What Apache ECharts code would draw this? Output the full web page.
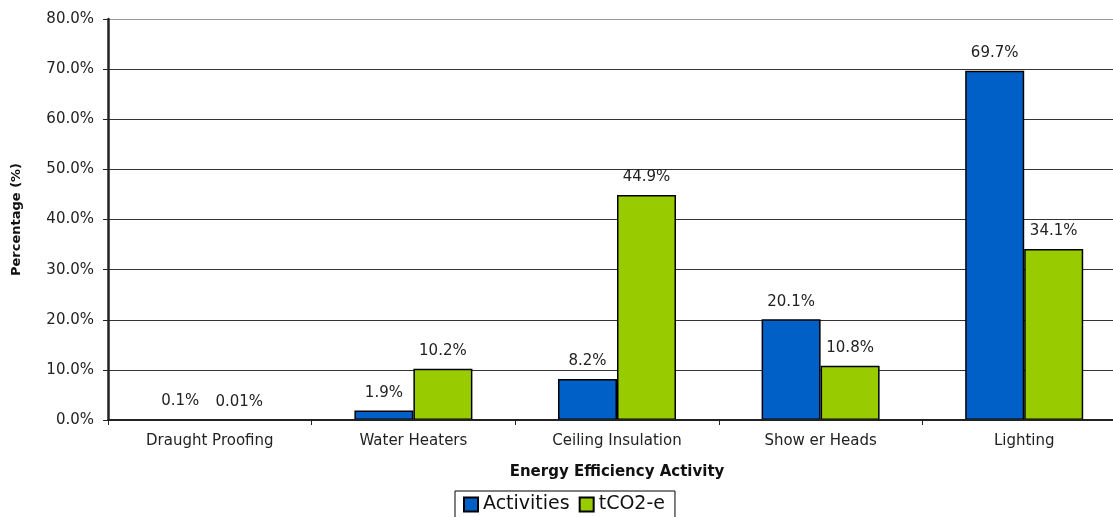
<!DOCTYPE html>
<html><head><meta charset="utf-8">
<script src="https://cdn.jsdelivr.net/npm/echarts@6/dist/echarts.min.js"></script>
<style>html,body{margin:0;padding:0;background:#fff;overflow:hidden;width:1113px;height:517px}#c{width:1126px;height:517px}</style>
</head><body><div id="c"></div>
<script>
const categories = ['Draught Proofing','Water Heaters','Ceiling Insulation','Show er Heads','Lighting'];
const activities = [0.1, 1.9, 8.2, 20.1, 69.7];
const tco2 = [0.01, 10.2, 44.9, 10.8, 34.1];
const activitiesLabels = ['0.1%','1.9%','8.2%','20.1%','69.7%'];
const tco2Labels = ['0.01%','10.2%','44.9%','10.8%','34.1%'];

const font = 'DejaVu Sans, sans-serif';
const chart = echarts.init(document.getElementById('c'));
const gridColors = ['#333','#333','#333','#333','#333','#333','#333','#333','#999'];
chart.setOption({
  animation:false,
  textStyle:{fontFamily:font},
  grid:{left:108, top:19, bottom:97, right:0, containLabel:false},
  legend:{
    data:['Activities','tCO2-e'], left:455, top:491, itemWidth:14, itemHeight:14, itemGap:9,
    borderColor:'#000', borderWidth:1, padding:[4,10,8,8],
    textStyle:{fontSize:19, color:'#111', fontFamily:font},
    icon:'rect'
  },
  xAxis:{
    type:'category', data:categories,
    name:'Energy Efficiency Activity', nameLocation:'middle', nameGap:45,
    nameTextStyle:{fontSize:15, fontWeight:'bold', color:'#111', fontFamily:font},
    axisLine:{lineStyle:{color:'#222', width:2}},
    axisTick:{show:true, length:5, lineStyle:{color:'#222'}},
    axisLabel:{fontSize:15, color:'#222', margin:14, fontFamily:font},
    z:5
  },
  yAxis:{
    type:'value', min:0, max:80, interval:10,
    name:'Percentage (%)', nameLocation:'middle', nameGap:85, nameRotate:90,
    nameTextStyle:{fontSize:13, fontWeight:'bold', color:'#111', fontFamily:font},
    axisLine:{show:true, lineStyle:{color:'#222', width:2.5}},
    axisTick:{show:true, length:5, lineStyle:{color:'#222'}},
    axisLabel:{fontSize:15, color:'#222', margin:14, fontFamily:font, formatter:v=>v.toFixed(1)+'%'},
    splitLine:{show:true, lineStyle:{color:gridColors, width:1.2}}
  },
  series:[
    {name:'Activities', type:'bar', data:activities, barWidth:59, barGap:'0%',
     itemStyle:{color:'#0060C8', borderColor:'#000', borderWidth:1.5},
     label:{show:true, position:'top', distance:10, fontSize:15, color:'#222', fontFamily:font,
       formatter:p=>activitiesLabels[p.dataIndex]}},
    {name:'tCO2-e', type:'bar', data:tco2, barWidth:59,
     itemStyle:{color:'#99CC00', borderColor:'#000', borderWidth:1.5},
     label:{show:true, position:'top', distance:10, fontSize:15, color:'#222', fontFamily:font,
       formatter:p=>tco2Labels[p.dataIndex]}}
  ]
});
</script></body></html>
